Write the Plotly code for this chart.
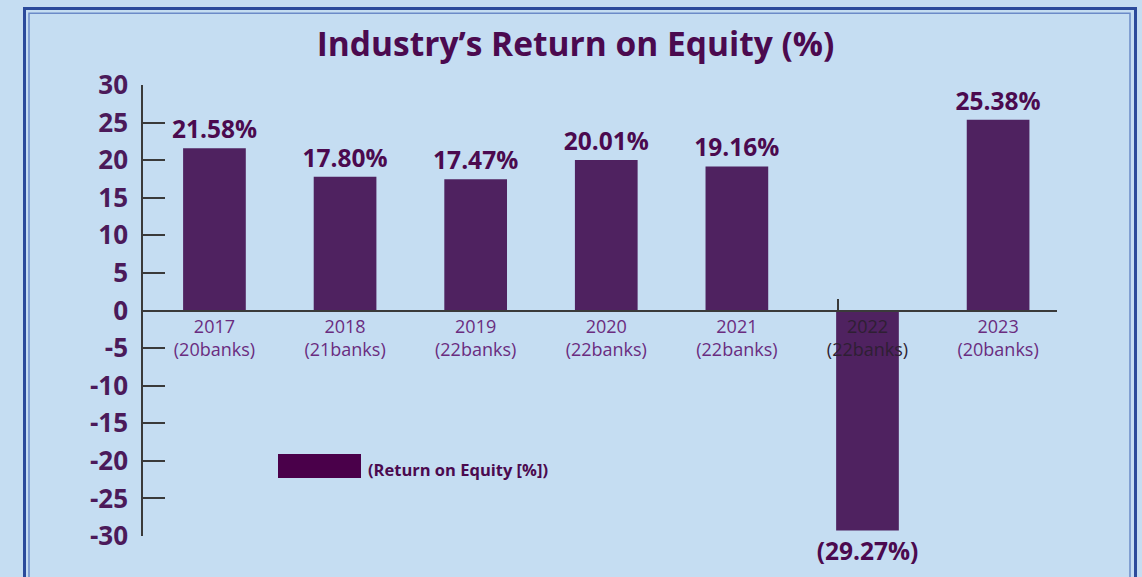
import plotly.graph_objects as go

# ---- data ----
years = ["2017", "2018", "2019", "2020", "2021", "2022", "2023"]
banks = ["20banks", "21banks", "22banks", "22banks", "22banks", "22banks", "20banks"]
roe = [21.58, 17.80, 17.47, 20.01, 19.16, -29.27, 25.38]
y_ticks = [30, 25, 20, 15, 10, 5, 0, -5, -10, -15, -20, -25, -30]
series_name = "(Return on Equity [%])"
title_text = "Industry’s Return on Equity (%)"

W, H = 1142, 577
ML, MR, MT, MB = 143, 85, 85, 41
PW, PH = W - ML - MR, H - MT - MB

def px(x):
    return (x - ML) / PW

def py(y):
    return (H - MB - y) / PH

BG = "#C5DDF2"
BAR = "#4F2260"
DARK = "#4B0A4F"
AXIS = "#3A3A3A"
LBL = "#6A2C80"
FONT = "Open Sans"

bar_w = 0.48
xs = list(range(len(years)))
labels = [f"{v:.2f}%" if v >= 0 else f"({abs(v):.2f}%)" for v in roe]

cat_text = []
for i, (yr, b) in enumerate(zip(years, banks)):
    t = f"{yr}<br>({b})"
    if roe[i] < 0:
        t = f"<span style='color:#2E1F33'>{t}</span>"
    cat_text.append(t)

fig = go.Figure()
fig.add_trace(go.Bar(
    x=xs, y=roe, width=bar_w, marker=dict(color=BAR, line=dict(width=0)),
    text=labels, textposition="outside", cliponaxis=False, constraintext="none",
    textfont=dict(family=FONT, size=24.5, color=DARK, weight="bold"),
    name=series_name, showlegend=False,
))
# invisible anchor for the overlay tick axis
fig.add_trace(go.Scatter(x=[xs[0]], y=[0], xaxis="x2", mode="markers",
                         marker=dict(opacity=0), showlegend=False, hoverinfo="skip"))

xr = [-0.547, 6.451]
fig.update_layout(
    width=W, height=H,
    margin=dict(l=ML, r=MR, t=MT, b=MB),
    paper_bgcolor=BG, plot_bgcolor=BG,
    showlegend=False,
    title=dict(text=title_text, x=575.5 / W, xref="container", xanchor="center",
               y=1 - 44 / H, yref="container", yanchor="middle",
               font=dict(family=FONT, size=33.5, color=DARK, weight="bold")),
    xaxis=dict(range=xr, tickvals=xs, ticktext=cat_text, anchor="free", position=0.5,
               showline=True, linecolor=AXIS, linewidth=1.5, ticks="",
               showgrid=False, zeroline=False,
               tickfont=dict(family=FONT, size=18, color=LBL)),
    xaxis2=dict(range=xr, overlaying="x", anchor="free", position=0.5,
                tickvals=[x - bar_w / 2 + 0.015 for x in xs] + [xr[1] - 0.004],
                ticks="inside", ticklen=12, tickcolor=AXIS, tickwidth=1.5,
                layer="below traces",
                showticklabels=False, showgrid=False, zeroline=False, showline=False),
    yaxis=dict(range=[-30, 30], tickvals=y_ticks, ticktext=[str(t) for t in y_ticks],
               ticks="inside", ticklen=22, tickcolor=AXIS, tickwidth=1.5,
               showline=True, linecolor=AXIS, linewidth=1.5,
               showgrid=False, zeroline=False, ticklabelstandoff=8,
               tickfont=dict(family=FONT, size=26, color="#4B1A5A", weight="bold")),
    bargap=0.5,
)

# frame borders
fig.add_shape(type="rect", xref="paper", yref="paper",
              x0=px(24.5), x1=px(1135.5), y0=py(600), y1=py(8.5),
              line=dict(color="#2B4A9B", width=3), fillcolor="rgba(0,0,0,0)", layer="below")
fig.add_shape(type="rect", xref="paper", yref="paper",
              x0=px(29), x1=px(1130), y0=py(600), y1=py(13.2),
              line=dict(color="#6B8AC8", width=1.5), fillcolor="rgba(0,0,0,0)", layer="below")

# legend (manual, large swatch)
fig.add_shape(type="rect", xref="paper", yref="paper",
              x0=px(278), x1=px(361), y0=py(478), y1=py(454),
              line=dict(width=0), fillcolor="#4A004A")
fig.add_annotation(xref="paper", yref="paper", x=px(366), y=py(469),
                   xanchor="left", yanchor="middle", showarrow=False,
                   text=series_name,
                   font=dict(family=FONT, size=16.5, color=DARK, weight="bold"))

fig.write_html("out.html", config={"displayModeBar": False},
               post_script="document.body.style.margin='0';")
